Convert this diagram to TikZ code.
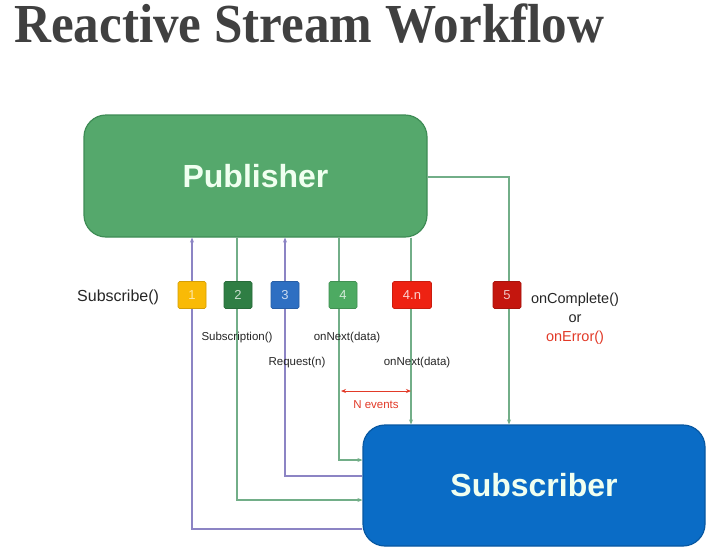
\documentclass[tikz,border=0pt]{standalone}
\usepackage{fontspec}
\setmainfont{Liberation Sans}
\newfontfamily\titlefont{Liberation Serif}
\usetikzlibrary{arrows.meta,calc}
\definecolor{pubfill}{HTML}{55A86C}
\definecolor{pubdraw}{HTML}{3E8C55}
\definecolor{subfill}{HTML}{0A6CC6}
\definecolor{subdraw}{HTML}{0858A2}
\definecolor{lpurple}{HTML}{8C84C4}
\definecolor{lgreen}{HTML}{72AE88}
\definecolor{cyellow}{HTML}{F9BA06}
\definecolor{cdgreen}{HTML}{2F7E44}
\definecolor{cblue}{HTML}{2E6FC2}
\definecolor{cgreen}{HTML}{4DAA62}
\definecolor{cred}{HTML}{EE2212}
\definecolor{cdred}{HTML}{C4160E}
\definecolor{tred}{HTML}{E23A28}
\definecolor{titlegray}{HTML}{404040}
\tikzset{
  bigbox/.style={rounded corners=22pt, line width=1.2pt, inner sep=0pt,
    font=\fontsize{32}{38}\selectfont\bfseries, text=white!94!green},
  badge/.style={rounded corners=1.5pt, minimum height=27pt, minimum width=28pt,
    inner sep=0pt, font=\fontsize{13}{15}\selectfont, line width=0.6pt},
  lab/.style={font=\fontsize{12}{14}\selectfont, text=black!85, inner sep=0pt},
  pline/.style={draw=lpurple, line width=1.1pt},
  gline/.style={draw=lgreen, line width=1.1pt},
  tip/.style={-{Stealth[length=5pt,width=4pt]}},
}
\begin{document}
\begin{tikzpicture}[x=1pt,y=-1pt]
\useasboundingbox (0,0) rectangle (720,550);
\fill[white] (0,0) rectangle (720,550);

% title
\node[anchor=base west, inner sep=0pt, xscale=0.93, text=titlegray,
  font=\titlefont\fontsize{55}{60}\selectfont\bfseries] (title) at (14,42) {Reactive Stream Workflow};

% main boxes
\node[bigbox, fill=pubfill, draw=pubdraw, minimum width=343pt, minimum height=122pt] (pub) at (255.5,176) {Publisher};
\node[bigbox, fill=subfill, draw=subdraw, minimum width=342pt, minimum height=121pt] (sub) at (534,485.5) {Subscriber};

% line positions
\coordinate (l1) at (192,0);
\coordinate (l2) at (237,0);
\coordinate (l3) at (285,0);
\coordinate (l4) at (339,0);
\coordinate (l4n) at (411,0);
\coordinate (l5) at (509,0);
\coordinate (y4) at (0,460);
\coordinate (y3) at (0,476);
\coordinate (y2) at (0,500);
\coordinate (y1) at (0,529);
\coordinate (y5) at (0,177);

% connectors
\draw[pline, tip] (sub.west |- y1) -| (pub.south -| l1);
\draw[gline, tip] (pub.south -| l2) |- (sub.west |- y2);
\draw[pline, tip] (sub.west |- y3) -| (pub.south -| l3);
\draw[gline, tip] (pub.south -| l4) |- (sub.west |- y4);
\draw[gline, tip] (pub.south -| l4n) -- (sub.north -| l4n);
\draw[gline, tip] (pub.east |- y5) -| (sub.north -| l5);

% badges (on top of the lines)
\node[badge, fill=cyellow, draw=cyellow!85!black, text=cyellow!35!white] (b1) at (192,295) {1};
\node[badge, fill=cdgreen, draw=cdgreen!85!black, text=cdgreen!25!white] (b2) at (238,295) {2};
\node[badge, fill=cblue, draw=cblue!85!black, text=cblue!25!white] (b3) at (285,295) {3};
\node[badge, fill=cgreen, draw=cgreen!85!black, text=cgreen!25!white] (b4) at (343,295) {4};
\node[badge, fill=cred, draw=cred!85!black, text=cred!20!white, minimum width=39pt] (b4n) at (412,295) {4.n};
\node[badge, fill=cdred, draw=cdred!85!black, text=cdred!25!white] (b5) at (507,295) {5};

% labels
\node[lab, anchor=west, font=\fontsize{16}{18}\selectfont] (tsub) at (77,297) {Subscribe()};
\node[lab, font=\fontsize{11.5}{14}\selectfont] (tsubn) at (237,338) {Subscription()};
\node[lab, font=\fontsize{11.5}{14}\selectfont] (tnext1) at (347,338) {onNext(data)};
\node[lab, font=\fontsize{11.5}{14}\selectfont] (treq) at (297,363) {Request(n)};
\node[lab, font=\fontsize{11.5}{14}\selectfont] (tnext2) at (417,363) {onNext(data)};
\node[lab, font=\fontsize{14.5}{17}\selectfont] (tcomp) at (575,300) {onComplete()};
\node[lab, font=\fontsize{14.5}{17}\selectfont] (tor) at (575,319) {or};
\node[lab, font=\fontsize{14.5}{17}\selectfont, text=tred] (terr) at (575,338) {onError()};

% N events
\coordinate (na) at (341,391);
\coordinate (nb) at (411,391);
\draw[draw=tred, line width=0.9pt, {Stealth[length=5pt,width=4pt]}-{Stealth[length=5pt,width=4pt]}] (na) -- (nb);
\node[lab, text=tred, font=\fontsize{11.5}{14}\selectfont] (tnev) at (376,405) {N events};
\end{tikzpicture}
\end{document}
